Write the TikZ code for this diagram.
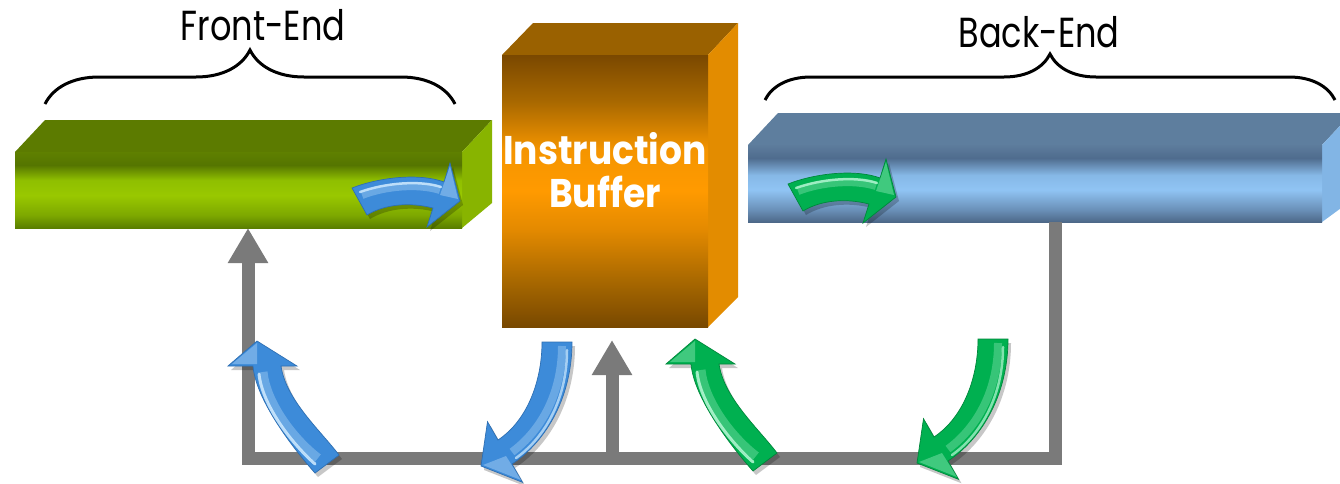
\documentclass[tikz,border=0pt]{standalone}
\usepackage{fontspec}
\usetikzlibrary{arrows.meta,decorations.pathreplacing}
\newfontfamily\headfont[FakeStretch=0.8]{Poppins}
\newfontfamily\boxfont[FakeStretch=0.9]{Poppins}

% face colours
\definecolor{feTop}{HTML}{5C7B00}
\definecolor{feSide}{HTML}{88B400}
\definecolor{ibTop}{HTML}{9A6100}
\definecolor{ibSide}{HTML}{E38C00}
\definecolor{beTop}{HTML}{5E7E9E}
\definecolor{beSide}{HTML}{82B5E5}
% arrow colours
\definecolor{blueArrow}{HTML}{3D8BD9}
\definecolor{blueEdge}{HTML}{2E6FB3}
\definecolor{blueLight}{HTML}{D2ECFF}
\definecolor{greenArrow}{HTML}{00B050}
\definecolor{greenEdge}{HTML}{00873B}
\definecolor{greenLight}{HTML}{B8F8D6}
\definecolor{loopGray}{HTML}{7A7A7A}

% front-face gradients (bottom to top)
\definecolor{feA}{HTML}{5A7E00}
\definecolor{feB}{HTML}{7DA800}
\definecolor{feC}{HTML}{99C800}
\definecolor{feD}{HTML}{8FBF00}
\definecolor{feE}{HTML}{557500}
\definecolor{feF}{HTML}{5F8000}
\pgfdeclareverticalshading{feFront}{100bp}{color(0bp)=(feA); color(25bp)=(feA);
  color(33.5bp)=(feB); color(46.5bp)=(feC); color(56.5bp)=(feD);
  color(66.5bp)=(feE); color(75bp)=(feF); color(100bp)=(feF)}

\definecolor{ibA}{HTML}{784800}
\definecolor{ibB}{HTML}{A86800}
\definecolor{ibC}{HTML}{E48A00}
\definecolor{ibD}{HTML}{FF9A00}
\definecolor{ibE}{HTML}{F59500}
\definecolor{ibF}{HTML}{A86800}
\definecolor{ibG}{HTML}{7A4800}
\pgfdeclareverticalshading{ibFront}{100bp}{color(0bp)=(ibA); color(25bp)=(ibA);
  color(33.5bp)=(ibB); color(43bp)=(ibC); color(50bp)=(ibD);
  color(57.5bp)=(ibE); color(66.5bp)=(ibF); color(75bp)=(ibG); color(100bp)=(ibG)}

\definecolor{beA}{HTML}{4D6888}
\definecolor{beB}{HTML}{6A90B8}
\definecolor{beC}{HTML}{90C4F4}
\definecolor{beD}{HTML}{86B8E6}
\definecolor{beE}{HTML}{4F6C8E}
\definecolor{beF}{HTML}{5D7C9C}
\pgfdeclareverticalshading{beFront}{100bp}{color(0bp)=(beA); color(25bp)=(beA);
  color(33bp)=(beB); color(46bp)=(beC); color(55.5bp)=(beD);
  color(66.5bp)=(beE); color(75bp)=(beF); color(100bp)=(beF)}

% glossy curved arrow rising to the upper left
\newcommand\upcurve[5]{%
  \begin{scope}[shift={(#1,#2)}]
    \fill[#3, draw=#4, line width=0.7pt, arrowshadow]
      (315,473) -- (339,455) .. controls (320,430) and (286,400) .. (281,366)
      -- (297,366) -- (257,341) -- (228,366) -- (253,366)
      .. controls (256,400) and (292,447) .. (315,473) -- cycle;
    \fill[#5, opacity=0.35] (257,343) -- (232,364) -- (257,364) -- cycle;
    \draw[#5, opacity=0.3, line width=9pt]
      (263,372) .. controls (266,402) and (292,438) .. (318,458);
    \draw[#5, opacity=0.85, line width=3pt, line cap=round]
      (259,374) .. controls (262,404) and (290,442) .. (315,464);
  \end{scope}}

% glossy curved arrow falling to the lower left
\newcommand\downcurve[5]{%
  \begin{scope}[shift={(#1,#2)}]
    \fill[#3, draw=#4, line width=0.7pt, arrowshadow]
      (542,342) -- (572,342) .. controls (572,395) and (548,440) .. (512,464)
      -- (522.5,482.3) -- (481,466) -- (487.5,421.7) -- (498,440)
      .. controls (528,420) and (542,380) .. (542,342) -- cycle;
    \fill[#5, opacity=0.35] (483,465) -- (521,480) -- (506,456) -- cycle;
    \draw[#5, opacity=0.3, line width=8pt]
      (562,346) .. controls (562,392) and (542,430) .. (512,452);
    \draw[#5, opacity=0.7, line width=2.5pt, line cap=round]
      (567,350) .. controls (567,396) and (547,436) .. (516,458);
  \end{scope}}

% glossy arched arrow inside a bar
\newcommand\bararrow[5]{%
  \begin{scope}[shift={(#1,#2)}]
    \fill[#3, draw=#4, line width=0.7pt, arrowshadow]
      (352,188) .. controls (380,177) and (420,173) .. (444,182)
      -- (450,163) -- (460,201) -- (427,227) -- (433,208)
      .. controls (410,202) and (385,204) .. (367,215) -- cycle;
    \fill[#5, opacity=0.35] (450,166) -- (458,199) -- (440,195) -- cycle;
    \draw[#5, opacity=0.3, line width=8pt]
      (362,195) .. controls (385,186) and (418,183) .. (440,190);
    \draw[#5, opacity=0.8, line width=2.5pt, line cap=round]
      (360,192) .. controls (385,183) and (420,180) .. (441,187);
  \end{scope}}

\begin{document}
\begin{tikzpicture}[x=1pt, y=-1pt,
  arrowshadow/.style={preaction={fill=black, fill opacity=0.22, draw=none,
      transform canvas={shift={(3pt,-4pt)}}}},
  facenode/.style={inner sep=0pt, outer sep=0pt, anchor=north west},
  feedback/.style={draw=loopGray, line width=13pt, line join=miter,
      -{Triangle[width=38pt 0, length=35pt 0]}},
  loopline/.style={draw=loopGray, line width=13pt, line join=miter},
  bracket/.style={draw=black, line width=3pt, decorate},
  headlabel/.style={font=\headfont\fontsize{42}{42}\selectfont, inner sep=0pt, anchor=base},
  boxlabel/.style={font=\boxfont\bfseries\fontsize{40}{40}\selectfont, text=white,
      inner sep=0pt, anchor=base}]

\useasboundingbox (0,0) rectangle (1340,483);
\fill[white] (0,0) rectangle (1340,483);

% ---- Front-End bar ----
\fill[feTop] (15,152) -- (45,120) -- (492,120) -- (462,152) -- cycle;
\fill[feSide] (462,152) -- (492,120) -- (492,203) -- (462,228) -- cycle;
\shade[shading=feFront] (15,152) rectangle (462,228);
\node[facenode, minimum width=447pt, minimum height=76pt] (fe) at (15,152) {};

% ---- Instruction Buffer box ----
\fill[ibTop] (502,55) -- (533,23) -- (738,23) -- (708,55) -- cycle;
\fill[ibSide] (708,55) -- (738,23) -- (738,297) -- (708,327) -- cycle;
\shade[shading=ibFront] (502,55) rectangle (708,327);
\node[facenode, minimum width=206pt, minimum height=272pt] (ib) at (502,55) {};
\node[boxlabel] (ibline1) at (605,164) {Instruction};
\node[boxlabel] (ibline2) at (605,207) {Buffer};

% ---- Back-End bar ----
\fill[beTop] (748,145) -- (778,113) -- (1352,113) -- (1322,145) -- cycle;
\fill[beSide] (1322,145) -- (1352,113) -- (1352,200) -- (1322,222) -- cycle;
\shade[shading=beFront] (748,145) rectangle (1322,222);
\node[facenode, minimum width=574pt, minimum height=77pt] (be) at (748,145) {};

% ---- braces and titles ----
\draw[bracket, decoration={brace, amplitude=54pt}] (45,104) -- (455,104);
\draw[bracket, decoration={brace, amplitude=46pt}] (765,100) -- (1335,100);
\node[headlabel] (fetitle) at (263,40) {Front-End};
\node[headlabel] (betitle) at (1039,47) {Back-End};

% ---- feedback loop ----
\coordinate (loopR) at (1055,458);
\coordinate (loopL) at (248,458);
\coordinate (loopM) at (612,458);
\coordinate (ibIn) at (612,340);
\draw[feedback] (be.south -| loopR) -- (loopR) -- (loopL) -- (fe.south -| loopL);
\draw[feedback] (loopM) -- (ibIn);

% ---- flow arrows ----
\bararrow{0}{0}{blueArrow}{blueEdge}{blueLight}
\bararrow{436}{-4}{greenArrow}{greenEdge}{greenLight}
\upcurve{0}{0}{blueArrow}{blueEdge}{blueLight}
\downcurve{0}{0}{blueArrow}{blueEdge}{blueLight}
\upcurve{438}{-2}{greenArrow}{greenEdge}{greenLight}
\downcurve{436}{-3}{greenArrow}{greenEdge}{greenLight}

\end{tikzpicture}
\end{document}
